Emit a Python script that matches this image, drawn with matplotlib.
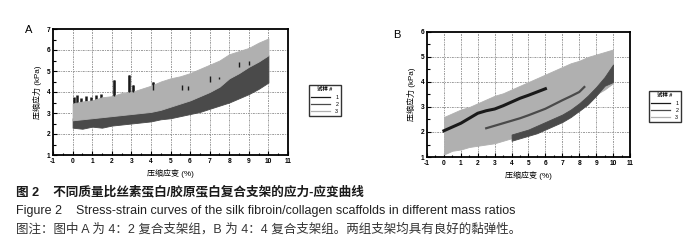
import matplotlib
matplotlib.use('Agg')
import matplotlib.pyplot as plt
from matplotlib.lines import Line2D

plt.rcParams['font.family'] = ['Liberation Sans', 'Noto Sans CJK SC', 'DejaVu Sans']
plt.rcParams['axes.unicode_minus'] = False

# ---- data ----
strain = [0, 0.5, 1, 1.5, 2, 2.5, 3, 3.5, 4, 4.5, 5, 5.5, 6, 6.5, 7, 7.5, 8, 8.5, 9, 9.5, 10]

# Panel A (4:2) - bands (lower / upper edges, kPa)
a2_lo = [2.3, 2.25, 2.35, 2.3, 2.4, 2.45, 2.5, 2.55, 2.6, 2.7, 2.75, 2.85, 2.95, 3.05, 3.2, 3.35, 3.5, 3.7, 3.9, 4.15, 4.45]
a2_hi = [2.75, 2.7, 2.8, 2.8, 2.9, 2.95, 3.0, 3.1, 3.2, 3.3, 3.4, 3.5, 3.6, 3.8, 4.0, 4.25, 4.65, 4.9, 5.2, 5.45, 5.75]
a3_lo = [2.65, 2.7, 2.75, 2.8, 2.85, 2.9, 2.95, 3.0, 3.05, 3.15, 3.3, 3.45, 3.6, 3.8, 4.0, 4.25, 4.65, 4.9, 5.2, 5.45, 5.75]
a3_hi = [3.45, 3.55, 3.6, 3.75, 3.8, 3.95, 4.0, 4.15, 4.3, 4.5, 4.65, 4.75, 4.9, 5.1, 5.3, 5.5, 5.8, 5.95, 6.1, 6.35, 6.55]
# specimen 1 only shows as dark spikes through the grey band
a1_x = [0.05, 0.25, 0.45, 0.7, 0.95, 1.2, 1.45, 2.1, 2.9, 3.1, 4.1, 5.6, 5.9, 7.0, 7.5, 8.5, 9.0]
a1_lo = [3.3, 3.4, 3.45, 3.4, 3.5, 3.5, 3.6, 3.8, 4.0, 4.0, 4.1, 4.1, 4.1, 4.5, 4.6, 5.2, 5.3]
a1_hi = [3.75, 3.85, 3.7, 3.8, 3.75, 3.85, 3.9, 4.55, 4.8, 4.35, 4.5, 4.35, 4.3, 4.75, 4.7, 5.45, 5.5]

# Panel B (4:4)
b3_lo = [1.1, 1.25, 1.3, 1.4, 1.45, 1.5, 1.55, 1.65, 1.75, 1.85, 1.95, 2.05, 2.2, 2.35, 2.5, 2.65, 2.85, 3.15, 3.5, 3.7, 3.95]
b3_hi = [2.6, 2.75, 2.9, 3.0, 3.15, 3.3, 3.45, 3.55, 3.7, 3.85, 4.0, 4.15, 4.3, 4.45, 4.6, 4.75, 4.85, 5.0, 5.1, 5.2, 5.3]
b1_x = [0, 0.5, 1, 1.5, 2, 2.5, 3, 3.5, 4, 4.5, 5, 5.5, 6]
b1_y = [2.05, 2.2, 2.35, 2.55, 2.75, 2.85, 2.92, 3.05, 3.2, 3.35, 3.47, 3.6, 3.73]
b2_x = [2.5, 3, 3.5, 4, 4.5, 5, 5.5, 6, 6.5, 7, 7.5, 8, 8.3]
b2_y = [2.15, 2.25, 2.35, 2.45, 2.55, 2.67, 2.8, 2.93, 3.1, 3.27, 3.43, 3.6, 3.8]
b4_x = [4, 4.5, 5, 5.5, 6, 6.5, 7, 7.5, 8, 8.5, 9, 9.5, 10]
b4_lo = [1.65, 1.75, 1.85, 1.95, 2.1, 2.25, 2.4, 2.6, 2.85, 3.1, 3.45, 3.85, 4.0]
b4_hi = [1.9, 2.0, 2.1, 2.25, 2.4, 2.55, 2.7, 2.9, 3.15, 3.45, 3.8, 4.2, 4.7]

specimens = ['1', '2', '3']
colors = ['#1a1a1a', '#4a4a4a', '#b0b0b0']

fig = plt.figure(figsize=(7, 2.46), dpi=100)


def style_axes(ax, ymax):
    ax.set_xlim(-1, 11)
    ax.set_ylim(1, ymax)
    ax.set_xticks(range(-1, 12))
    ax.set_yticks(range(1, ymax + 1))
    ax.set_xticks([i + 0.5 for i in range(-1, 11)], minor=True)
    ax.set_yticks([i + 0.5 for i in range(1, ymax)], minor=True)
    ax.tick_params(which='both', direction='in', top=False, right=False,
                   labelsize=4.8, pad=2, width=0.8)
    ax.tick_params(which='major', length=3)
    ax.tick_params(which='minor', length=1.8)
    for lab in ax.get_xticklabels() + ax.get_yticklabels():
        lab.set_fontweight('bold')
    for s in ax.spines.values():
        s.set_linewidth(1.3)
    for x in range(0, 11):
        ax.axvline(x, color='#9a9a9a', lw=0.7, ls=(0, (2, 1, 1, 1)), zorder=0)
    for y in range(2, ymax):
        ax.axhline(y, color='#9a9a9a', lw=0.7, ls=(0, (2, 1, 1, 1)), zorder=0)
    ax.set_xlabel('压缩应变 (%)', fontsize=5.8, labelpad=3)
    ax.set_ylabel('压缩应力 (kPa)', fontsize=5.8, labelpad=3)


def add_legend(x0, y0):
    handles = [Line2D([], [], color=c, lw=0.9) for c in colors]
    lg = fig.legend(handles, specimens, title='试样 #', loc='upper left',
                    bbox_to_anchor=(x0 / 700, 1 - y0 / 246), fontsize=3.9,
                    title_fontsize=3.9, frameon=True, fancybox=False,
                    handlelength=3.4, handletextpad=1.0, labelspacing=0.4,
                    borderpad=0.45, borderaxespad=0)
    lg.get_frame().set_edgecolor('black')
    lg.get_frame().set_linewidth(1.0)
    lg.get_title().set_fontweight('bold')


# ---- panel A ----
axA = fig.add_axes([53 / 700, 1 - 155 / 246, 235 / 700, 126 / 246])
axA.fill_between(strain, a2_lo, a2_hi, color=colors[1], lw=0.6, zorder=2)
axA.vlines(a1_x, a1_lo, a1_hi, color=colors[0], lw=1.8, zorder=2)
axA.fill_between(strain, a3_lo, a3_hi, color=colors[2], lw=0.6, zorder=3)
axA.vlines(a1_x[7:], a1_lo[7:], a1_hi[7:], color=colors[0], lw=1.0, zorder=4)
style_axes(axA, 7)
fig.text(25 / 700, 1 - 30 / 246, 'A', fontsize=8, va='center')
add_legend(309, 85)

# ---- panel B ----
axB = fig.add_axes([427 / 700, 1 - 157 / 246, 203 / 700, 125 / 246])
axB.fill_between(strain, b3_lo, b3_hi, color=colors[2], lw=0.6, zorder=2)
axB.plot(b1_x, b1_y, color=colors[0], lw=2.2, zorder=3)
axB.plot(b2_x, b2_y, color=colors[1], lw=1.6, zorder=3)
axB.fill_between(b4_x, b4_lo, b4_hi, color=colors[1], lw=0.6, zorder=3)
style_axes(axB, 6)
fig.text(393 / 700, 1 - 35 / 246, 'B', fontsize=8, va='center')
add_legend(649, 91)

# ---- caption ----
fig.text(16 / 700, 1 - 192 / 246, '图 2    不同质量比丝素蛋白/胶原蛋白复合支架的应力-应变曲线',
         fontsize=9.1, va='center', color='#1a1a1a', fontweight='bold')
fig.text(16 / 700, 1 - 211 / 246,
         'Figure 2    Stress-strain curves of the silk fibroin/collagen scaffolds in different mass ratios',
         fontsize=9.0, va='center', color='#222222')
fig.text(16 / 700, 1 - 229 / 246,
         '图注：图中 A 为 4：2 复合支架组，B 为 4：4 复合支架组。两组支架均具有良好的黏弹性。',
         fontsize=9.0, va='center', color='#333333')

fig.savefig('out.png', dpi=100)
